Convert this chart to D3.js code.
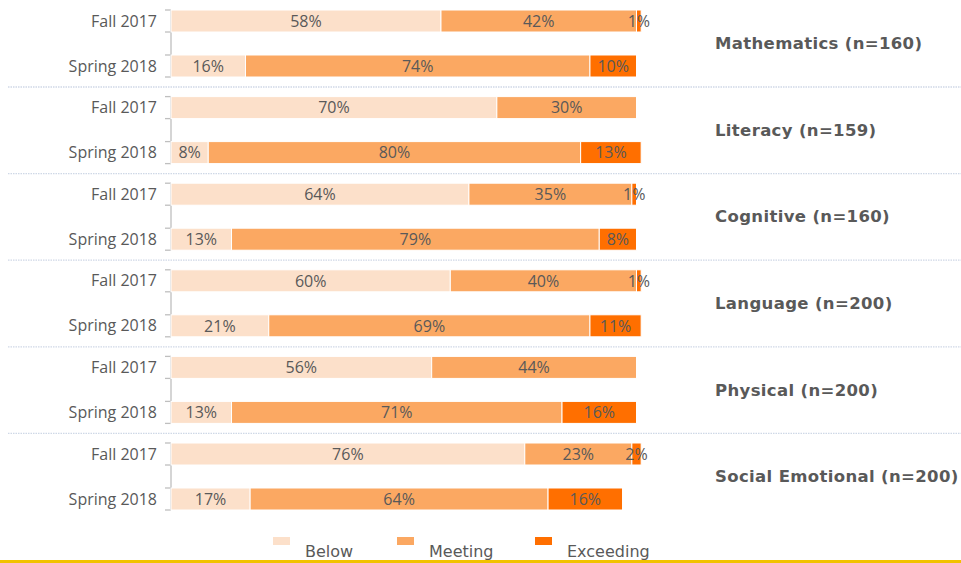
<!DOCTYPE html>
<html><head><meta charset="utf-8">
<script src="https://cdn.jsdelivr.net/npm/d3@7"></script>
<style>body{margin:0;background:#fff;}svg{display:block;}</style>
</head><body>
<script>
const subjects = ["Mathematics (n=160)","Literacy (n=159)","Cognitive (n=160)","Language (n=200)","Physical (n=200)","Social Emotional (n=200)"];
const periods = ["Fall 2017","Spring 2018"];
const levels = ["Below","Meeting","Exceeding"];
const colors = ["#FCE0CA","#FBA862","#FF6F00"];
const below    = [[58,16],[70,8],[64,13],[60,21],[56,13],[76,17]];
const meeting  = [[42,74],[30,80],[35,79],[40,69],[44,71],[23,64]];
const exceeding= [[1,10],[0,13],[1,8],[1,11],[0,16],[2,16]];

const W=961,H=563;
const svg=d3.select("body").append("svg").attr("width",W).attr("height",H);
const x=d3.scaleLinear().domain([0,100]).range([171,636.5]);
const yG=d3.scaleBand().domain(subjects).range([10,10+6*86.6]).padding(0);
const yP=d3.scaleBand().domain(periods).range([0,67]).paddingInner(0.511).paddingOuter(0);
const txt="#595959";

// separators
subjects.slice(0,-1).forEach(s=>{
  const yy=yG(s)+77;
  svg.append("line").attr("x1",8).attr("x2",W).attr("y1",yy).attr("y2",yy)
    .attr("stroke","#CFD8E6").attr("stroke-width",1.3).attr("stroke-dasharray","1.5,1");
});

subjects.forEach((s,i)=>{
  const g=svg.append("g").attr("transform",`translate(0,${yG(s)})`);
  g.append("line").attr("x1",171).attr("x2",171).attr("y1",0).attr("y2",67).attr("stroke","#BFBFBF").attr("stroke-width",1.3);
  periods.forEach(p=>{
    [yP(p),yP(p)+yP.bandwidth()].forEach(t=>{
      g.append("line").attr("x1",165).attr("x2",171).attr("y1",t).attr("y2",t).attr("stroke","#BFBFBF").attr("stroke-width",1.3);
    });
    g.append("text").attr("x",157).attr("y",yP(p)+yP.bandwidth()/2).attr("dy","0.35em")
      .attr("text-anchor","end").attr("font-family","'Open Sans',sans-serif").attr("font-size",16)
      .attr("fill",txt).text(p);
  });
  periods.forEach((p,j)=>{
    const vals=[below[i][j],meeting[i][j],exceeding[i][j]];
    let acc=0;
    vals.forEach((v,k)=>{
      if(v>0){
        g.append("rect").attr("x",x(acc)).attr("width",x(acc+v)-x(acc))
          .attr("y",yP(p)).attr("height",yP.bandwidth())
          .attr("fill",colors[k]).attr("stroke","#fff").attr("stroke-width",1);
        g.append("text").attr("x",(x(acc)+x(acc+v))/2).attr("y",yP(p)+yP.bandwidth()/2).attr("dy","0.36em")
          .attr("text-anchor","middle").attr("font-family","'Open Sans',sans-serif").attr("font-size",16)
          .attr("fill",txt).text(v+"%");
      }
      acc+=v;
    });
  });
  g.append("text").attr("x",715).attr("y",33.5).attr("dy","0.35em")
    .attr("font-family","'DejaVu Sans',Verdana,sans-serif").attr("font-weight","bold").attr("font-size",16.5)
    .attr("letter-spacing",0.35).attr("fill",txt).text(s);
});

// legend
const legX=[273,397,535];
levels.forEach((l,k)=>{
  svg.append("rect").attr("x",legX[k]).attr("y",537).attr("width",17).attr("height",8).attr("fill",colors[k]);
  svg.append("text").attr("x",legX[k]+32).attr("y",557).attr("font-family","'DejaVu Sans',Verdana,sans-serif")
    .attr("font-size",16).attr("fill",txt).text(l);
});
// bottom bar
svg.append("rect").attr("x",0).attr("y",560).attr("width",W).attr("height",3).attr("fill","#F2C200");
</script>
</body></html>
